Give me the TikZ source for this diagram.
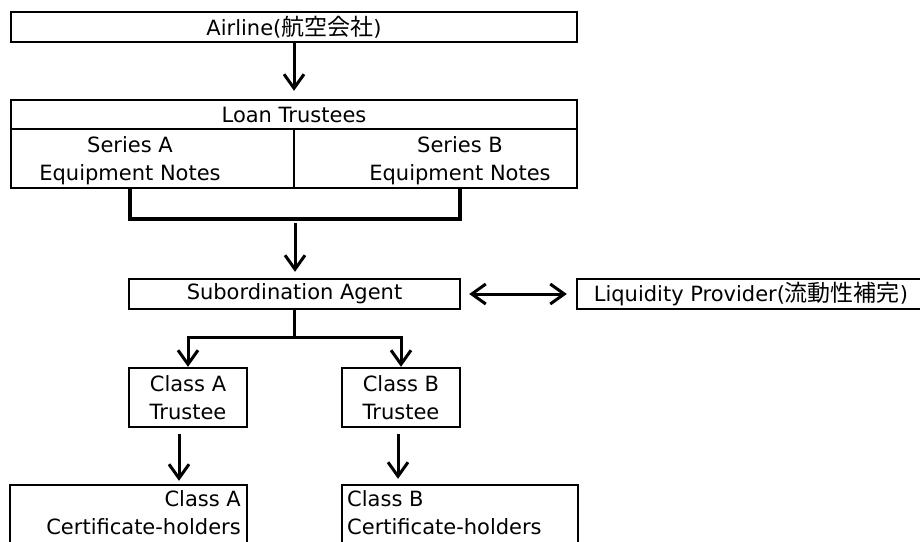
\documentclass[tikz,border=0pt]{standalone}
\usepackage{fontspec}
\setmainfont{DejaVu Sans}
\newfontfamily\cjk{Noto Sans CJK JP}
\usetikzlibrary{arrows.meta}
\newcommand{\jp}[1]{{\cjk\fontsize{23}{28}\selectfont #1}}
\begin{document}
\begin{tikzpicture}[x=1pt,y=-1pt,
    box/.style={draw,line width=2.4pt,inner sep=0pt},
    lbl/.style={align=center,inner sep=0pt,font=\fontsize{21}{28}\selectfont},
    arr/.style={line width=3pt,-{Straight Barb[length=14pt,width=20pt,line width=3pt]}},
    arrboth/.style={line width=3pt,{Straight Barb[length=14pt,width=20pt,line width=3pt]}-{Straight Barb[length=14pt,width=20pt,line width=3pt]}},
    bracket/.style={line width=4pt}]
  \useasboundingbox (0,0) rectangle (920,541);
  \clip (0,0) rectangle (920,541);
  \node[box,lbl,minimum width=566pt,minimum height=30pt] (airline) at (294,27) {Airline(\jp{航空会社})};
  \node[box,minimum width=566pt,minimum height=88pt] (loan) at (294,144) {};
  \coordinate (rowline) at (0,129);
  \draw[line width=2.4pt] (loan.west |- rowline) -- (loan.east |- rowline);
  \draw[line width=2pt] (loan.south |- rowline) -- (loan.south);
  \node[lbl] (loantitle) at (294,115) {Loan Trustees};
  \node[lbl] (seriesA) at (130,161) {Series A\\Equipment Notes};
  \node[lbl] (seriesB) at (460,161) {Series B\\Equipment Notes};
  \coordinate (merge) at (295,219);
  \draw[bracket] (seriesA |- loan.south) |- (merge) -| (seriesB |- loan.south);
  \node[box,lbl,minimum width=331pt,minimum height=30pt] (sub) at (294.5,294) {Subordination Agent};
  \node[box,lbl,minimum width=348pt,minimum height=30pt] (liq) at (751,294) {Liquidity Provider(\jp{流動性補完})};
  \node[box,lbl,minimum width=118pt,minimum height=59pt] (trA) at (188,397.5) {Class A\\Trustee};
  \node[box,lbl,minimum width=118pt,minimum height=59pt] (trB) at (401,397.5) {Class B\\Trustee};
  \node[box,minimum width=237pt,minimum height=63pt] (certA) at (128.5,516.5) {};
  \node[box,minimum width=236pt,minimum height=63pt] (certB) at (460,516.5) {};
  \node[lbl,align=right,anchor=east] (certAtext) at (241,513) {Class A\\Certificate-holders};
  \node[lbl,align=left,anchor=west] (certBtext) at (347,513) {Class B\\Certificate-holders};
  \coordinate (fork) at (294.5,337);
  \coordinate (dropA) at (179,0);
  \coordinate (dropB) at (398,0);
  \draw[arr,shorten >=8pt] (airline) -- (loan);
  \draw[arr,shorten <=4pt,shorten >=6pt] (merge) -- (merge |- sub.north);
  \draw[arrboth,shorten <=8pt,shorten >=9pt] (sub) -- (liq);
  \draw[line width=3pt] (sub.south) -- (fork);
  \draw[arr] (fork) -| (trA);
  \draw[arr] (fork) -| (trB);
  \draw[arr,shorten <=6pt,shorten >=3pt] (dropA |- trA.south) -- (dropA |- certA.north);
  \draw[arr,shorten <=6pt,shorten >=5pt] (dropB |- trB.south) -- (dropB |- certB.north);
\end{tikzpicture}
\end{document}
